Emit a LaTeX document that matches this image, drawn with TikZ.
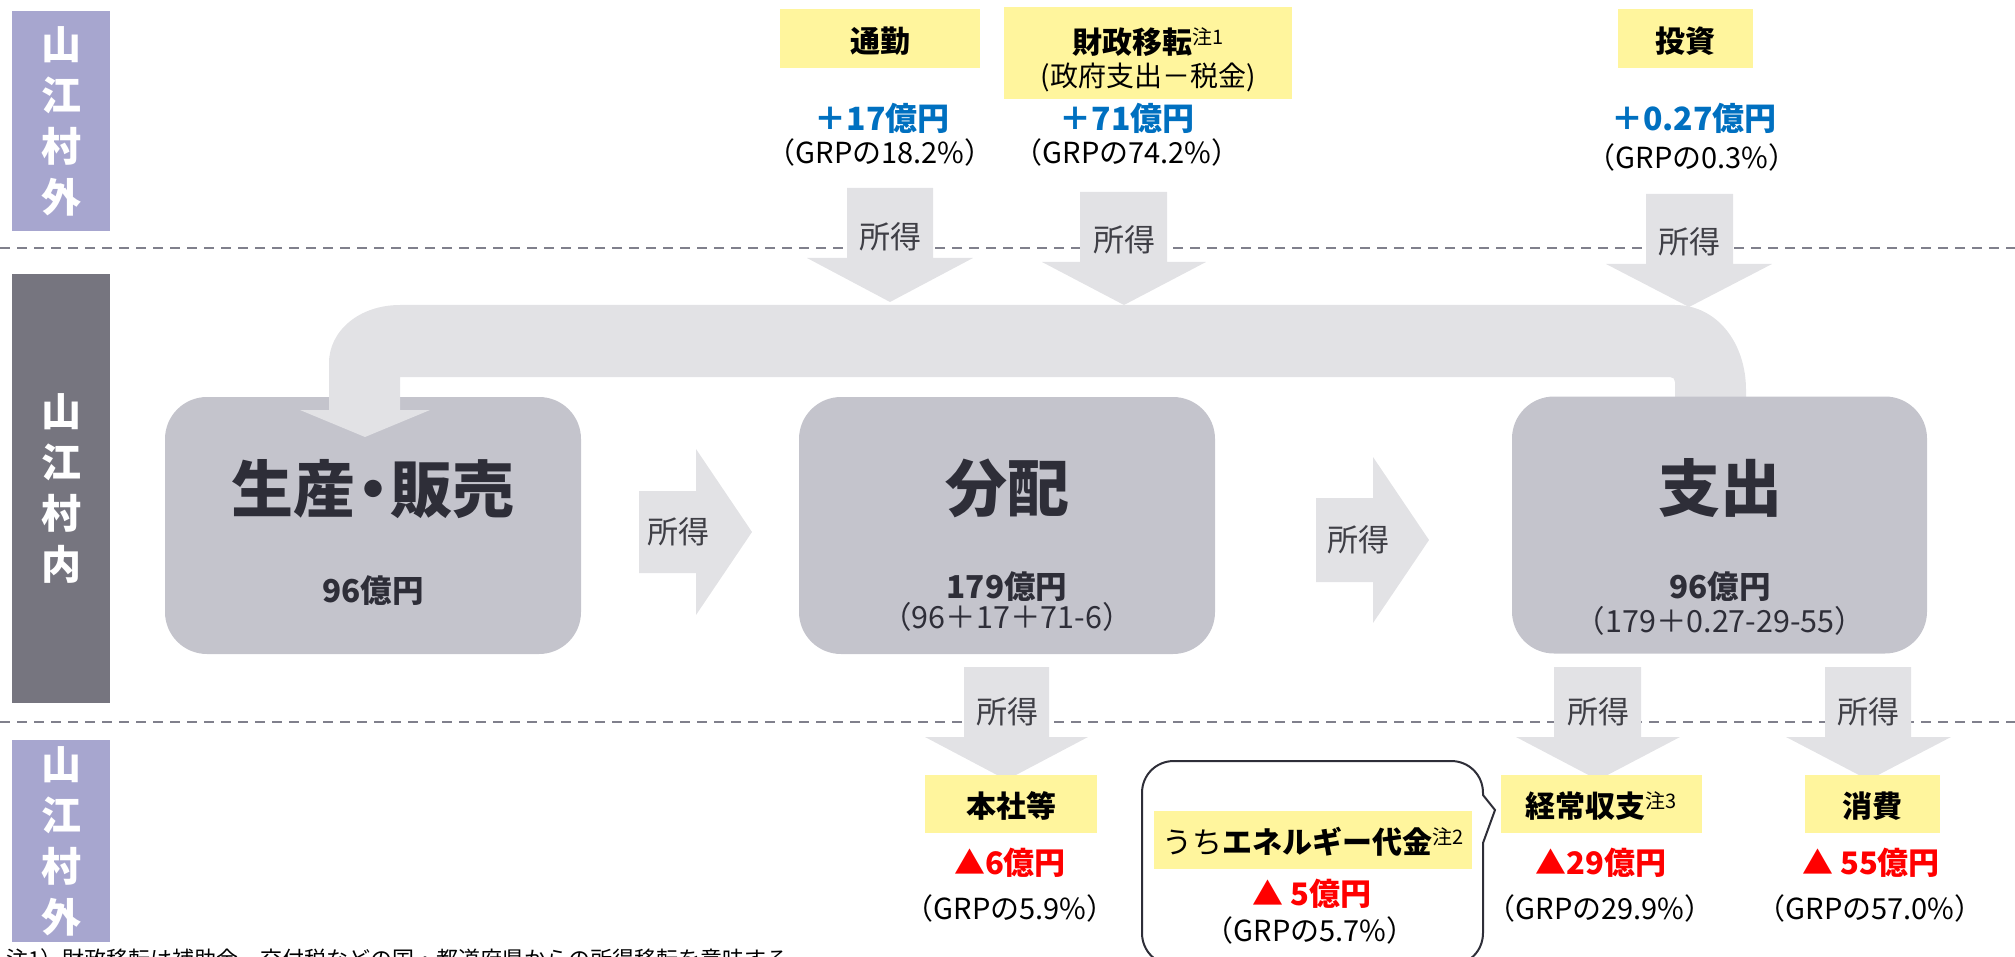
\documentclass[tikz,border=0pt]{standalone}
\usepackage{fontspec}
\setmainfont{Noto Sans CJK JP}
\definecolor{lav}{HTML}{A7A6CF}
\definecolor{midbar}{HTML}{76757F}
\definecolor{boxg}{HTML}{C4C4CC}
\definecolor{arrg}{HTML}{E2E2E5}
\definecolor{ylw}{HTML}{FFF59D}
\definecolor{dk}{HTML}{2E2E38}
\definecolor{blu}{HTML}{0070C0}
\definecolor{dashg}{HTML}{80808C}
\definecolor{lblg}{HTML}{3F3F46}
\definecolor{rd}{HTML}{FF0000}
\newcommand\fsz[1]{\fontsize{#1}{#1}\selectfont}
\newcommand\darrow[7]{\fill[arrg] (#1,#3) -- (#2,#3) -- (#2,#4) -- (#6,#4) -- ({(#5+#6)/2},#7) -- (#5,#4) -- (#1,#4) -- cycle;}
\newcommand\rarrow[7]{\fill[arrg] (#1,#3) -- (#2,#3) -- (#2,#5) -- (#7,{(#5+#6)/2}) -- (#2,#6) -- (#2,#4) -- (#1,#4) -- cycle;}
\tikzset{
  vbar/.style={inner sep=0pt, minimum width=98pt, align=center, text=white,
    font=\fontsize{40}{51}\selectfont\bfseries},
  mainbox/.style={fill=boxg, rounded corners=42pt, inner sep=0pt, minimum width=416pt, minimum height=257pt},
  ybox/.style={fill=ylw, inner sep=0pt},
  ttl/.style={inner sep=0pt, text=dk, font=\fsz{62}\bfseries},
  amt/.style={inner sep=0pt, text=dk, font=\fsz{31.5}\bfseries},
  frm/.style={inner sep=0pt, text=dk, font=\fsz{30.5}},
  shotoku/.style={inner sep=0pt, text=lblg, font=\fsz{31}},
  ytxt/.style={inner sep=0pt, text=black, font=\fsz{30}\bfseries},
  plus/.style={inner sep=0pt, text=blu, font=\fsz{32}\bfseries},
  minus/.style={inner sep=0pt, text=rd, font=\fsz{31}\bfseries},
  grp/.style={inner sep=0pt, text=black, font=\fsz{29}},
  dline/.style={dashg, line width=2pt, dash pattern=on 10pt off 7pt},
  callout/.style={draw=dk, line width=2pt, fill=white}
}
\newcommand\chu[1]{{\mdseries\fsz{20}\raisebox{9pt}{#1}}}
\begin{document}
\begin{tikzpicture}[x=1pt,y=-1pt]
\useasboundingbox (0,0) rectangle (2015,957);
% side bars
\node[vbar, fill=lav, minimum height=220pt] (outtop) at (61,121) {山\\江\\村\\外};
\node[vbar, fill=midbar, minimum height=429pt] (inside) at (61,488.5) {山\\江\\村\\内};
\node[vbar, fill=lav, minimum height=202pt] (outbot) at (61,841) {山\\江\\村\\外};
% dashed separators
\draw[dline] (0,248) -- (2015,248);
\draw[dline] (0,722) -- (2015,722);
% main boxes and loop band
\node[mainbox] (prod) at (373,525.5) {};
\fill[arrg] (329,410) -- (329,363) .. controls (329,331) and (359,305) .. (400,305)
  -- (1675,305) .. controls (1717,305) and (1746,343) .. (1746,390) -- (1746,420)
  -- (1675,420) -- (1675,382) .. controls (1675,379) and (1673,377) .. (1670,377)
  -- (400,377) -- (400,410) -- (430,410) -- (365,437) -- (300,410) -- cycle;
\node[mainbox] (dist) at (1007,525.5) {};
\node[mainbox, minimum width=415pt] (exp) at (1719.5,525) {};
% arrows
\rarrow{639}{696}{491}{573}{449}{615}{752}
\rarrow{1316}{1373}{498}{582}{457}{623}{1429}
\darrow{847}{933}{188}{258}{807}{973}{302}
\darrow{1080}{1167}{192}{262}{1042}{1206}{305}
\darrow{1646}{1733}{194}{264}{1606}{1772}{307}
\darrow{964}{1049}{667}{737}{925}{1088}{780}
\darrow{1554}{1641}{667}{737}{1516}{1680}{780}
\darrow{1825}{1911}{667}{737}{1786}{1951}{780}
% arrow labels
\node[shotoku] (s1) at (678,532) {所得};
\node[shotoku] (s2) at (1358,540) {所得};
\node[shotoku] (sa) at (890,237) {所得};
\node[shotoku] (sb) at (1124,240) {所得};
\node[shotoku] (sc) at (1689,242) {所得};
\node[shotoku] (sd) at (1007,712) {所得};
\node[shotoku] (se) at (1598,712) {所得};
\node[shotoku] (sf) at (1868,712) {所得};
% box texts
\node[ttl] (prodt) at (373,489) {生産\hspace{-0.22em}・\hspace{-0.22em}販売};
\node[amt] (proda) at (373,591) {96億円};
\node[ttl] (distt) at (1007,488) {分配};
\node[amt] (dista) at (1007,587) {179億円};
\node[frm] (distf) at (1007,617) {（96＋17＋71-6）};
\node[ttl] (expt) at (1720,488) {支出};
\node[amt] (expa) at (1720,587) {96億円};
\node[frm] (expf) at (1720,621) {（179＋0.27-29-55）};
% top yellow labels
\node[ybox, minimum width=200pt, minimum height=59pt] (tsukin) at (880,38.5) {};
\node[ytxt] (tsukint) at (880,41) {通勤};
\node[ybox, minimum width=288pt, minimum height=92pt] (zaisei) at (1148,53) {};
\node[ytxt] (zaiseit) at (1148,42) {財政移転\chu{注1}};
\node[inner sep=0pt, font=\fsz{28}] (zaiseis) at (1148,77) {(政府支出－税金)};
\node[ybox, minimum width=135pt, minimum height=59pt] (toshi) at (1685.5,38.5) {};
\node[ytxt] (toshit) at (1685.5,41) {投資};
\node[plus] (p1) at (882,118) {＋17億円};
\node[grp] (g1) at (880,152) {（GRPの18.2\%）};
\node[plus] (p2) at (1127,118) {＋71億円};
\node[grp] (g2) at (1127,152) {（GRPの74.2\%）};
\node[plus] (p3) at (1694,118) {＋0.27億円};
\node[grp] (g3) at (1692,157) {（GRPの0.3\%）};
% bottom labels
\node[ybox, minimum width=172pt, minimum height=58pt] (honsha) at (1011,804) {};
\node[ytxt] (honshat) at (1011,806) {本社等};
\node[ybox, minimum width=201pt, minimum height=58pt] (keijo) at (1601.5,804) {};
\node[ytxt] (keijot) at (1601,806) {経常収支\chu{注3}};
\node[ybox, minimum width=135pt, minimum height=58pt] (shohi) at (1872.5,804) {};
\node[ytxt] (shohit) at (1872.5,806) {消費};
\node[minus] (m1) at (1010,863) {▲6億円};
\node[grp] (h1) at (1010,908) {（GRPの5.9\%）};
\node[minus] (m3) at (1601,863) {▲29億円};
\node[grp] (h3) at (1600,908) {（GRPの29.9\%）};
\node[minus] (m4) at (1871,863) {▲ 55億円};
\node[grp] (h4) at (1870,908) {（GRPの57.0\%）};
% callout
\draw[callout] (1174,761) -- (1451,761) .. controls (1469,761) and (1483,775) .. (1483,793)
  -- (1483,795) -- (1495,810) -- (1483,843) -- (1483,933)
  .. controls (1483,951) and (1469,965) .. (1451,965) -- (1174,965)
  .. controls (1156,965) and (1142,951) .. (1142,933) -- (1142,793)
  .. controls (1142,775) and (1156,761) .. (1174,761) -- cycle;
\node[ybox, minimum width=318pt, minimum height=58pt] (energy) at (1313,840) {};
\node[inner sep=0pt, font=\fsz{30}] (energyt) at (1313,842) {うち\textbf{エネルギー代金}\chu{注2}};
\node[minus] (m2) at (1312,894) {▲ 5億円};
\node[grp] (h2) at (1310,930) {（GRPの5.7\%）};
% footnote (cut at the bottom edge, as in the reference)
\node[inner sep=0pt, anchor=north west, font=\fsz{22}] (note) at (6,948) {注1）財政移転は補助金、交付税などの国・都道府県からの所得移転を意味する};
\end{tikzpicture}
\end{document}
